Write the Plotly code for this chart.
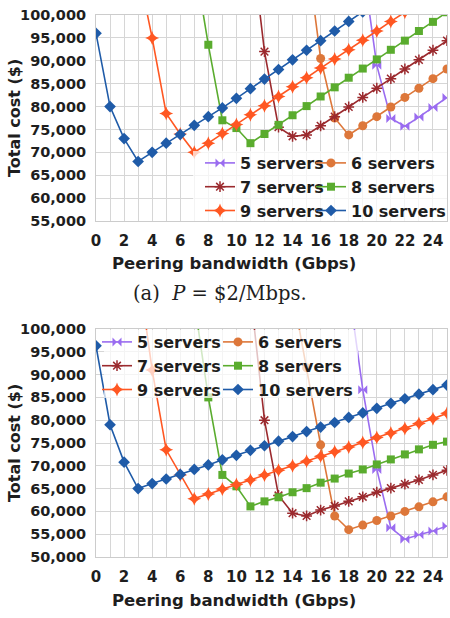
import plotly.graph_objects as go

# ---------------- data ----------------
series_names = ["5 servers", "6 servers", "7 servers", "8 servers", "9 servers", "10 servers"]
x_tick_labels = list(range(0, 25, 2))

# (a) P = $2/Mbps
a_x5 = [19, 20, 21, 22, 23, 24, 25]
a_y5 = [111000, 89000, 77400, 75700, 77700, 79800, 82000]
a_x6 = [15, 16, 17, 18, 19, 20, 21, 22, 23, 24, 25]
a_y6 = [114000, 90500, 77500, 73800, 75800, 77800, 79900, 82000, 84000, 86100, 88200]
a_x7 = [11, 12, 13, 14, 15, 16, 17, 18, 19, 20, 21, 22, 23, 24, 25]
a_y7 = [118000, 92000, 75500, 73500, 73800, 75800, 77800, 79900, 82000, 84000, 86100, 88200, 90200, 92300, 94400]
a_x8 = [7, 8, 9, 10, 11, 12, 13, 14, 15, 16, 17, 18, 19, 20, 21, 22, 23, 24, 25]
a_y8 = [112000, 93500, 77000, 75300, 72000, 74000, 76000, 78100, 80100, 82200, 84200, 86300, 88300, 90300,
        92400, 94400, 96500, 98500, 100600]
a_x9 = [3, 4, 5, 6, 7, 8, 9, 10, 11, 12, 13, 14, 15, 16, 17, 18, 19, 20, 21, 22]
a_y9 = [110000, 95000, 78500, 74000, 70000, 72000, 74100, 76100, 78200, 80200, 82200, 84300, 86300, 88400,
        90400, 92400, 94500, 96500, 98600, 100600]
a_x10 = [0, 1, 2, 3, 4, 5, 6, 7, 8, 9, 10, 11, 12, 13, 14, 15, 16, 17, 18, 19]
a_y10 = [96000, 80000, 73000, 68000, 70000, 72000, 73900, 75900, 77800, 79700, 81800, 83900, 86000, 88100,
         90200, 92300, 94400, 96500, 98600, 100700]

# (b) second panel
b_x5 = [18, 19, 20, 21, 22, 23, 24, 25]
b_y5 = [109000, 86700, 69200, 56400, 53900, 54900, 55700, 56800]
b_x6 = [14, 15, 16, 17, 18, 19, 20, 21, 22, 23, 24, 25]
b_y6 = [108000, 91500, 74600, 59000, 56000, 57000, 58000, 59000, 60000, 61000, 62100, 63200]
b_x7 = [11, 12, 13, 14, 15, 16, 17, 18, 19, 20, 21, 22, 23, 24, 25]
b_y7 = [108000, 80000, 63500, 59600, 59000, 60300, 61200, 62200, 63200, 64200, 65100, 66000, 66900, 68000, 69000]
b_x8 = [7, 8, 9, 10, 11, 12, 13, 14, 15, 16, 17, 18, 19, 20, 21, 22, 23, 24, 25]
b_y8 = [106000, 85000, 68000, 65500, 61100, 62200, 63100, 64200, 65100, 66300, 67200, 68300, 69200, 70300,
        71400, 72500, 73600, 74600, 75300]
b_x9 = [3, 4, 5, 6, 7, 8, 9, 10, 11, 12, 13, 14, 15, 16, 17, 18, 19, 20, 21, 22, 23, 24, 25]
b_y9 = [113000, 91000, 73500, 68000, 62800, 63800, 64900, 65900, 66900, 68000, 69000, 70000, 71000, 72100,
        73100, 74100, 75100, 76200, 77200, 78200, 79300, 80300, 81500]
b_x10 = list(range(0, 26))
b_y10 = [96300, 79000, 70800, 65000, 66100, 67100, 68100, 69200, 70200, 71300, 72300, 73400, 74400, 75400,
         76400, 77500, 78500, 79500, 80600, 81600, 82600, 83700, 84700, 85700, 86700, 87700]

# ---------------- styles ----------------
W, H = 450, 618
def fx(px):
    return px / W
def fy(py):
    return 1 - py / H

colors = ["#9a6cf0", "#dd773a", "#9b2a2e", "#5aac2e", "#ff5722", "#1f5ba8"]
symbols = ["bowtie", "circle", "asterisk-open", "square", "star-diamond", "diamond"]
sizes = [9, 9, 9, 8, 10, 9]

panel_a = [(a_x5, a_y5), (a_x6, a_y6), (a_x7, a_y7), (a_x8, a_y8), (a_x9, a_y9), (a_x10, a_y10)]
panel_b = [(b_x5, b_y5), (b_x6, b_y6), (b_x7, b_y7), (b_x8, b_y8), (b_x9, b_y9), (b_x10, b_y10)]

fig = go.Figure()

def add_panel(data, xa, ya, leg_left, leg_right):
    for i, (xs, ys) in enumerate(data):
        open_sym = symbols[i].endswith("open")
        fig.add_trace(go.Scatter(
            x=xs, y=ys, mode="lines+markers", name=series_names[i],
            xaxis=xa, yaxis=ya,
            legend=leg_left if i % 2 == 0 else leg_right,
            line=dict(color=colors[i], width=1.6),
            marker=dict(symbol=symbols[i], size=sizes[i], color=colors[i],
                        line=dict(color=colors[i], width=1.5 if open_sym else 0)),
        ))

add_panel(panel_a, "x", "y", "legend", "legend2")
add_panel(panel_b, "x2", "y2", "legend3", "legend4")

grid = "#d6d6d6"
tickfont = dict(family="DejaVu Sans", size=14.5, color="#1e1e1e", weight="bold")
xtickfont = dict(family="DejaVu Sans", size=15, color="#1e1e1e", weight="bold")

def xaxis_cfg(anchor):
    return dict(domain=[fx(96), fx(447)], range=[0, 25], anchor=anchor,
                tickmode="array", tickvals=x_tick_labels, ticktext=[str(v) for v in x_tick_labels],
                showgrid=True, gridcolor=grid, gridwidth=1,
                minor=dict(dtick=1, tick0=0, showgrid=True, gridcolor=grid, gridwidth=1),
                showline=True, mirror=True, linecolor="#cccccc", linewidth=1,
                zeroline=False, ticks="", tickfont=xtickfont, ticklabelstandoff=6)

def yaxis_cfg(dom, rng, anchor):
    return dict(domain=dom, range=rng, anchor=anchor, dtick=5000, tick0=0, tickformat=",d",
                showgrid=True, gridcolor=grid, gridwidth=1,
                showline=True, mirror=True, linecolor="#cccccc", linewidth=1,
                zeroline=False, ticks="", tickfont=tickfont, ticklabelstandoff=6)

leg_common = dict(bgcolor="rgba(0,0,0,0)", borderwidth=0, orientation="v",
                  font=dict(family="DejaVu Sans", size=16, color="#1e1e1e", weight="bold"),
                  tracegroupgap=0, itemsizing="trace", xanchor="left", yanchor="top")

fig.update_layout(
    width=W, height=H, margin=dict(l=0, r=0, t=0, b=0, autoexpand=False),
    paper_bgcolor="white", plot_bgcolor="white", showlegend=True,
    xaxis=xaxis_cfg("y"),
    yaxis=yaxis_cfg([fy(221), fy(15)], [55000, 100000], "x"),
    xaxis2=xaxis_cfg("y2"),
    yaxis2=yaxis_cfg([fy(557), fy(329)], [50000, 100000], "x2"),
    legend=dict(x=fx(200), y=fy(146), **leg_common),
    legend2=dict(x=fx(311), y=fy(146), **leg_common),
    legend3=dict(x=fx(97), y=fy(325), **leg_common),
    legend4=dict(x=fx(218), y=fy(325), **leg_common),
    shapes=[
        dict(type="rect", xref="paper", yref="paper", layer="above",
             x0=fx(193), x1=fx(447), y0=fy(221), y1=fy(151),
             fillcolor="rgba(255,255,255,0.72)", line=dict(width=0)),
        dict(type="rect", xref="paper", yref="paper", layer="above",
             x0=fx(104), x1=fx(358), y0=fy(398), y1=fy(330),
             fillcolor="rgba(255,255,255,0.72)", line=dict(width=0)),
    ],
    annotations=[
        dict(text="Total cost ($)", textangle=-90, x=fx(14), y=fy(118), xref="paper", yref="paper",
             showarrow=False, xanchor="center", yanchor="middle",
             font=dict(family="DejaVu Sans", size=16, color="#1e1e1e", weight="bold")),
        dict(text="Total cost ($)", textangle=-90, x=fx(14), y=fy(443), xref="paper", yref="paper",
             showarrow=False, xanchor="center", yanchor="middle",
             font=dict(family="DejaVu Sans", size=16, color="#1e1e1e", weight="bold")),
        dict(text="Peering bandwidth (Gbps)", x=fx(234), y=fy(263), xref="paper", yref="paper",
             showarrow=False, xanchor="center", yanchor="middle",
             font=dict(family="DejaVu Sans", size=16.5, color="#1e1e1e", weight="bold")),
        dict(text="Peering bandwidth (Gbps)", x=fx(234), y=fy(600), xref="paper", yref="paper",
             showarrow=False, xanchor="center", yanchor="middle",
             font=dict(family="DejaVu Sans", size=16.5, color="#1e1e1e", weight="bold")),
        dict(text="(a)  <i>P</i> = $2/Mbps.", x=fx(220), y=fy(293), xref="paper", yref="paper",
             showarrow=False, xanchor="center", yanchor="middle",
             font=dict(family="DejaVu Serif", size=19.5, color="#1e1e1e")),
    ],
)

fig.write_html("out.html")
